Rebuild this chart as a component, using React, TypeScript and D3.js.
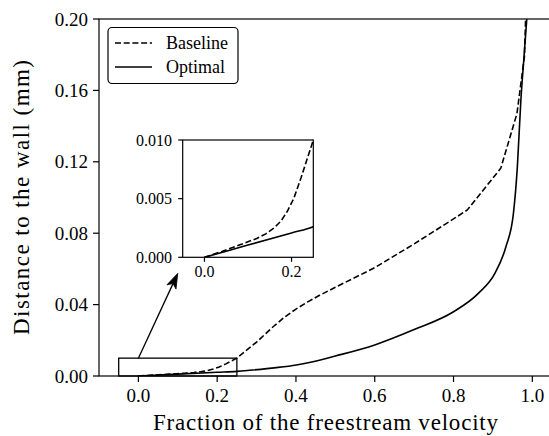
import React from "react";
import * as d3 from "d3";

// Velocity profiles: fraction of freestream velocity vs distance to the wall (mm)
const baselineU = [0, 0.04, 0.08, 0.12, 0.141, 0.16, 0.176, 0.19, 0.205, 0.222, 0.25, 0.3, 0.342, 0.37, 0.4, 0.43, 0.46, 0.5, 0.6, 0.7, 0.8, 0.835, 0.92, 0.961, 0.98, 0.983];
const baselineY = [0, 0.0005, 0.00105, 0.0016, 0.002, 0.0025, 0.0031, 0.0039, 0.005, 0.0068, 0.01, 0.019, 0.0276, 0.0328, 0.0375, 0.0415, 0.0452, 0.0497, 0.0607, 0.074, 0.088, 0.093, 0.1164, 0.147, 0.179, 0.2];

const optimalU = [0, 0.1, 0.2, 0.25, 0.282, 0.35, 0.401, 0.443, 0.5, 0.6, 0.7, 0.8, 0.863, 0.905, 0.933, 0.952, 0.962, 0.971, 0.979, 0.986];
const optimalY = [0, 0.00104, 0.00208, 0.0026, 0.0032, 0.0047, 0.0062, 0.008, 0.0112, 0.0174, 0.026, 0.036, 0.0463, 0.0575, 0.0724, 0.091, 0.117, 0.1546, 0.179, 0.2];

const xTicks = [0, 0.2, 0.4, 0.6, 0.8, 1.0];
const yTicks = [0, 0.04, 0.08, 0.12, 0.16, 0.2];
const insetXTicks = [0, 0.2];
const insetYTicks = [0, 0.005, 0.01];

const seriesNames = ["Baseline", "Optimal"];

// zoom window shown in the inset, and the arrow pointing at it (data units)
const zoomX: [number, number] = [-0.05, 0.25];
const zoomY: [number, number] = [0, 0.01];
const arrowFrom: [number, number] = [0, 0.01];
const arrowTo: [number, number] = [0.1, 0.0575];

const FONT = "Liberation Serif, serif";

type Pt = [number, number];
const baseline: Pt[] = baselineU.map((u, i) => [u, baselineY[i]]);
const optimal: Pt[] = optimalU.map((u, i) => [u, optimalY[i]]);

export default function App() {
  const W = 549;
  const H = 436;
  const M = { left: 99, right: 552, top: 19, bottom: 376 };
  const I = { left: 182.7, right: 313.3, top: 140, bottom: 257.3 };

  const x = d3.scaleLinear().domain([-0.1, 1.05]).range([M.left, M.right]);
  const y = d3.scaleLinear().domain([0, 0.2]).range([M.bottom, M.top]);
  const xi = d3.scaleLinear().domain(zoomX).range([I.left, I.right]);
  const yi = d3.scaleLinear().domain(zoomY).range([I.bottom, I.top]);

  const dashPath = (sx: any, sy: any) =>
    d3.line<Pt>().x((d) => sx(d[0])).y((d) => sy(d[1]))(baseline) || "";
  const solidPath = (sx: any, sy: any) =>
    d3.line<Pt>().x((d) => sx(d[0])).y((d) => sy(d[1])).curve(d3.curveMonotoneX)(optimal) || "";

  const lw = 1.6;
  const dash = "6,2.7";
  const spine = 1.2;
  const txt = { fontFamily: FONT };

  // arrow geometry
  const ax0 = x(arrowFrom[0]);
  const ay0 = y(arrowFrom[1]);
  const ax1 = x(arrowTo[0]);
  const ay1 = y(arrowTo[1]);
  const ang = Math.atan2(ay1 - ay0, ax1 - ax0);
  const headL = 15;
  const headW = 5;
  const cs = Math.cos(ang);
  const sn = Math.sin(ang);
  const bx = ax1 - headL * cs;
  const by = ay1 - headL * sn;
  const px = -sn;
  const py = cs;
  const head = `M${ax1},${ay1} L${bx + px * headW},${by + py * headW} L${ax1 - 0.75 * headL * cs},${ay1 - 0.75 * headL * sn} L${bx - px * headW},${by - py * headW} Z`;

  return (
    <svg width={W} height={H} style={{ position: "absolute", left: 0, top: 0, background: "#fff" }}>
      <defs>
        <clipPath id="mainClip">
          <rect x={M.left} y={M.top} width={M.right - M.left} height={M.bottom - M.top} />
        </clipPath>
        <clipPath id="insetClip">
          <rect x={I.left} y={I.top} width={I.right - I.left} height={I.bottom - I.top} />
        </clipPath>
      </defs>
      <rect x={0} y={0} width={W} height={H} fill="#fff" />

      {/* main curves */}
      <g clipPath="url(#mainClip)" fill="none" stroke="#000">
        <path d={dashPath(x, y)} strokeWidth={lw} strokeDasharray={dash} />
        <path d={solidPath(x, y)} strokeWidth={lw} />
      </g>

      {/* zoom window */}
      <rect
        x={x(zoomX[0])}
        y={y(zoomY[1])}
        width={x(zoomX[1]) - x(zoomX[0])}
        height={y(zoomY[0]) - y(zoomY[1])}
        fill="none"
        stroke="#000"
        strokeWidth={1.3}
      />

      {/* main spines */}
      <rect x={M.left} y={M.top} width={M.right - M.left} height={M.bottom - M.top} fill="none" stroke="#000" strokeWidth={spine} />

      {/* x ticks */}
      {xTicks.map((t) => (
        <g key={"xt" + t}>
          <line x1={x(t)} x2={x(t)} y1={M.bottom} y2={M.bottom + 6} stroke="#000" strokeWidth={spine} />
          <text x={x(t)} y={402} textAnchor="middle" fontSize={19} style={txt}>
            {t.toFixed(1)}
          </text>
        </g>
      ))}
      {/* y ticks */}
      {yTicks.map((t) => (
        <g key={"yt" + t}>
          <line x1={M.left - 6} x2={M.left} y1={y(t)} y2={y(t)} stroke="#000" strokeWidth={spine} />
          <text x={88} y={y(t) + 6.5} textAnchor="end" fontSize={19} style={txt}>
            {t.toFixed(2)}
          </text>
        </g>
      ))}

      <text x={(M.left + M.right) / 2} y={430} textAnchor="middle" fontSize={23} textLength={345} style={txt}>
        Fraction of the freestream velocity
      </text>
      <text
        transform={`translate(29,${(M.top + M.bottom) / 2}) rotate(-90)`}
        textAnchor="middle"
        fontSize={23}
        textLength={275}
        style={txt}
      >
        Distance to the wall (mm)
      </text>

      {/* arrow to inset */}
      <line x1={ax0} y1={ay0} x2={bx + 0.3 * headL * cs} y2={by + 0.3 * headL * sn} stroke="#000" strokeWidth={1.3} />
      <path d={head} fill="#000" stroke="#000" strokeWidth={0.8} />

      {/* inset */}
      <rect x={I.left} y={I.top} width={I.right - I.left} height={I.bottom - I.top} fill="#fff" />
      <g clipPath="url(#insetClip)" fill="none" stroke="#000">
        <path d={dashPath(xi, yi)} strokeWidth={lw} strokeDasharray={dash} />
        <path d={solidPath(xi, yi)} strokeWidth={lw} />
      </g>
      <rect x={I.left} y={I.top} width={I.right - I.left} height={I.bottom - I.top} fill="none" stroke="#000" strokeWidth={spine} />
      {insetXTicks.map((t) => (
        <g key={"ixt" + t}>
          <line x1={xi(t)} x2={xi(t)} y1={I.bottom} y2={I.bottom + 4.5} stroke="#000" strokeWidth={spine} />
          <text x={xi(t)} y={276.5} textAnchor="middle" fontSize={16} style={txt}>
            {t.toFixed(1)}
          </text>
        </g>
      ))}
      {insetYTicks.map((t) => (
        <g key={"iyt" + t}>
          <line x1={I.left - 4.5} x2={I.left} y1={yi(t)} y2={yi(t)} stroke="#000" strokeWidth={spine} />
          <text x={172} y={yi(t) + 5.5} textAnchor="end" fontSize={16} style={txt}>
            {t.toFixed(3)}
          </text>
        </g>
      ))}

      {/* legend */}
      <rect x={108} y={27.5} width={130} height={56} rx={4} fill="#fff" stroke="#000" strokeWidth={1.2} />
      {seriesNames.map((name, i) => {
        const ly = 43 + i * 24;
        return (
          <g key={name}>
            <line
              x1={115}
              x2={152}
              y1={ly}
              y2={ly}
              stroke="#000"
              strokeWidth={lw}
              strokeDasharray={i === 0 ? dash : undefined}
            />
            <text x={166} y={ly + 6} fontSize={18} style={txt}>
              {name}
            </text>
          </g>
        );
      })}
    </svg>
  );
}
